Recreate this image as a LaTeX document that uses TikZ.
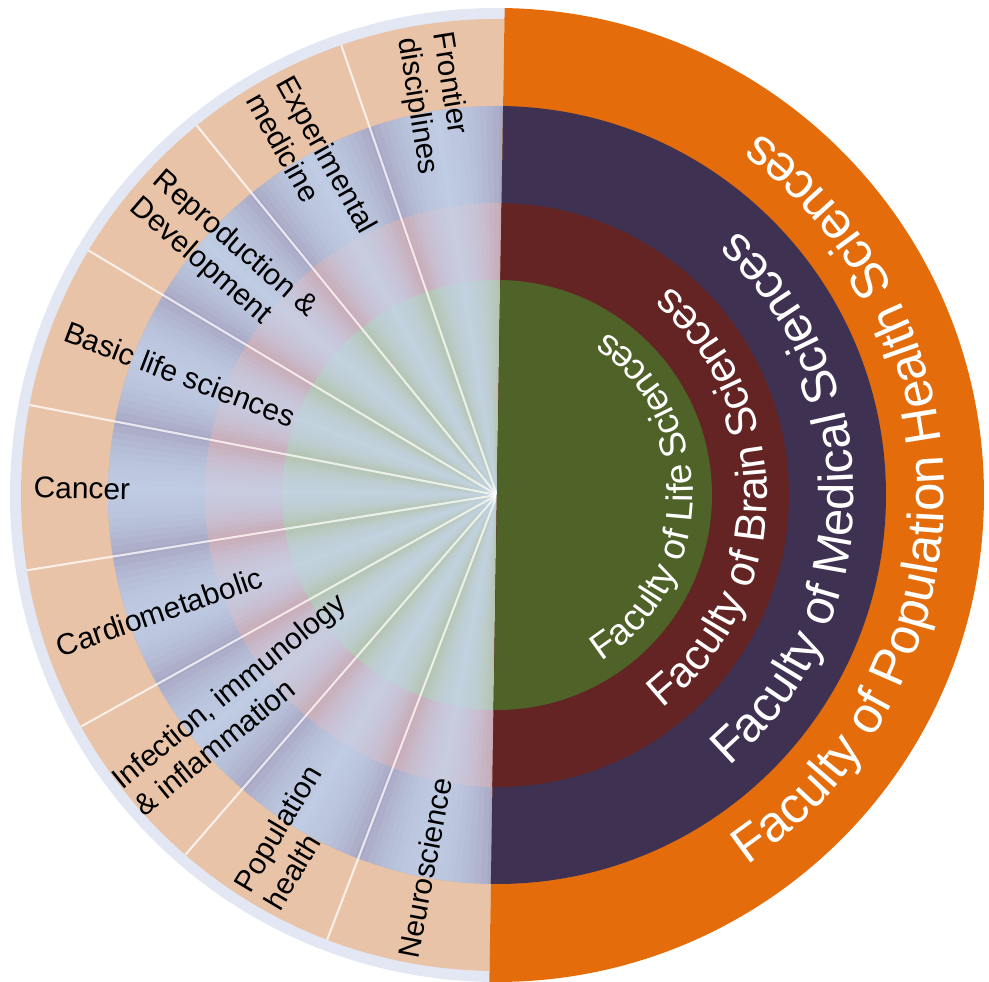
\documentclass[tikz,border=0pt]{standalone}
\usepackage{fontspec}
\setmainfont{Liberation Sans}
\usetikzlibrary{decorations.text}
\definecolor{popOrange}{HTML}{E46C0A}
\definecolor{medPurple}{HTML}{3F3151}
\definecolor{brainRed}{HTML}{632423}
\definecolor{lifeGreen}{HTML}{4F6228}
\definecolor{paleOrange}{HTML}{E8C3A7}
\definecolor{palePurple}{HTML}{A8A7C4}
\definecolor{paleRed}{HTML}{C9A9B5}
\definecolor{paleGreen}{HTML}{B3C3AD}
\definecolor{glow}{HTML}{C8D8EE}
\definecolor{rim}{HTML}{E2E7F3}
\tikzstyle{topic}=[font=\fontsize{8.5}{10}\selectfont,align=left,anchor=west,inner sep=0pt,transform shape]
\tikzstyle{spoke}=[draw=white,line width=0.6pt,opacity=0.75]
\tikzstyle{faculty}=[decorate,decoration={text along path,text align=center,text color=white}]

\begin{document}
\begin{tikzpicture}
  \useasboundingbox (-4.97,-4.87) rectangle (4.92,4.95);
  \begin{scope}[rotate=-0.9]
  \coordinate (hub) at (0,0);
  % left half: pale copies of the faculty rings
  \fill[rim] (90:4.87) arc[start angle=90,end angle=270,radius=4.87] -- cycle;
  \fill[paleOrange] (90:4.76) arc[start angle=90,end angle=270,radius=4.76] -- cycle;
  \fill[palePurple] (90:3.89) arc[start angle=90,end angle=270,radius=3.89] -- cycle;
  \fill[paleRed] (90:2.92) arc[start angle=90,end angle=270,radius=2.92] -- cycle;
  \fill[paleGreen] (90:2.15) arc[start angle=90,end angle=270,radius=2.15] -- cycle;
  % light sheen in the middle of every sector
  \foreach \c in {100,120,...,260}
    \foreach \w in {9.5,8.5,...,0.5}
      \fill[glow,opacity=0.15] (hub) -- ({\c-\w}:3.89)
        arc[start angle={\c-\w},end angle={\c+\w},radius=3.89] -- cycle;
  \foreach \a in {110,130,...,250}
    \draw[spoke] (hub) -- (\a:4.76);

  % right half: the four faculties
  \fill[popOrange] (-90:4.87) arc[start angle=-90,end angle=90,radius=4.87] -- cycle;
  \fill[medPurple] (-90:3.89) arc[start angle=-90,end angle=90,radius=3.89] -- cycle;
  \fill[brainRed] (-90:2.92) arc[start angle=-90,end angle=90,radius=2.92] -- cycle;
  \fill[lifeGreen] (-90:2.15) arc[start angle=-90,end angle=90,radius=2.15] -- cycle;

  \path[faculty,decoration={text={|\fontsize{14.5}{16}\selectfont|Faculty of Population Health Sciences}}]
    (-90:4.47) arc[start angle=-90,end angle=90,radius=4.47];
  \path[faculty,decoration={text={|\fontsize{13.9}{15}\selectfont|Faculty of Medical Sciences}}]
    (-90:3.57) arc[start angle=-90,end angle=90,radius=3.57];
  \path[faculty,decoration={text={|\fontsize{12.2}{14}\selectfont|Faculty of Brain Sciences}}]
    (-90:2.70) arc[start angle=-90,end angle=90,radius=2.70];
  \path[faculty,decoration={text={|\fontsize{10.5}{12}\selectfont|Faculty of Life Sciences}}]
    (-90:1.96) arc[start angle=-90,end angle=90,radius=1.96];

  % research themes
  \node[topic,rotate=280] (frontier) at (100:4.66) {Frontier\\disciplines};
  \node[topic,rotate=300] (experimental) at (120:4.68) {Experimental\\medicine};
  \node[topic,rotate=320] (reproduction) at (140:4.66) {Reproduction \&\\Development};
  \node[topic,rotate=340] (basic) at (160:4.62) {Basic life sciences};
  \node[topic,rotate=0] (cancer) at (180:4.64) {Cancer};
  \node[topic,rotate=20] (cardio) at (200:4.66) {Cardiometabolic};
  \node[topic,rotate=40] (infection) at (220:4.78) {Infection, immunology\\\& inflammation};
  \node[topic,rotate=60] (population) at (240:4.70) {Population\\health};
  \node[topic,rotate=80] (neuro) at (260:4.72) {Neuroscience};
  \end{scope}
\end{tikzpicture}
\end{document}
